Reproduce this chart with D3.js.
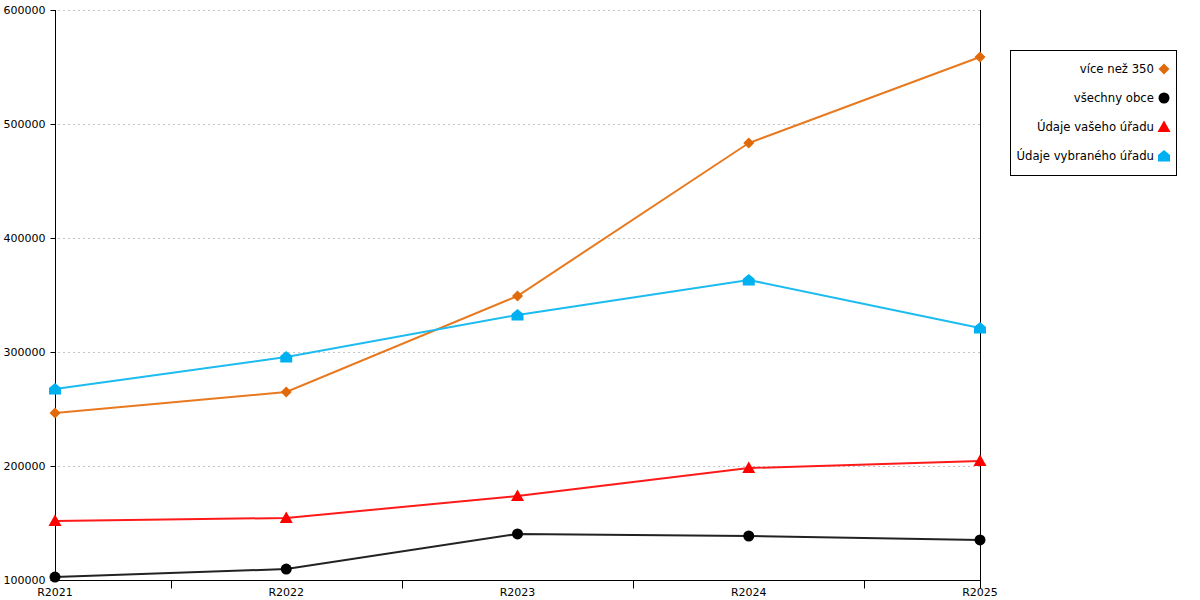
<!DOCTYPE html>
<html>
<head>
<meta charset="utf-8">
<script src="https://cdn.jsdelivr.net/npm/d3@7"></script>
<style>
  body { margin: 0; background: #fff; }
  text { font-family: "DejaVu Sans", sans-serif; }
</style>
</head>
<body>
<script>
// data
const years = ["R2021", "R2022", "R2023", "R2024", "R2025"];
const yTicks = [100000, 200000, 300000, 400000, 500000, 600000];
const viceNez350 = [246500, 264900, 349100, 483300, 558800];
const vsechnyObce = [102600, 109600, 140400, 138600, 135100];
const udajeVaseho = [151800, 154400, 173700, 198200, 204400];
const udajeVybraneho = [267500, 295600, 332500, 363200, 321100];

const series = [
    { name: "více než 350", values: viceNez350, line: "#E8791E", fill: "#E06A0A", shape: "diamond" },
    { name: "všechny obce", values: vsechnyObce, line: "#222222", fill: "#000000", shape: "circle" },
    { name: "Údaje vašeho úřadu", values: udajeVaseho, line: "#FF1A1A", fill: "#FF0000", shape: "triangle" },
    { name: "Údaje vybraného úřadu", values: udajeVybraneho, line: "#1CBBF0", fill: "#00B0F0", shape: "house" }
];

const width = 1200, height = 600;
const plotLeft = 55, plotRight = 980, plotTop = 10, plotBottom = 580;

const svg = d3.select("body").append("svg")
    .attr("width", width)
    .attr("height", height);

const x = d3.scalePoint().domain(years).range([plotLeft, plotRight]);
const y = d3.scaleLinear().domain([100000, 600000]).range([plotBottom, plotTop]);

// grid
svg.append("g")
    .selectAll("line")
    .data(yTicks.slice(1))
    .join("line")
    .attr("x1", plotLeft + 3)
    .attr("x2", plotRight)
    .attr("y1", (d) => y(d) + 0.5)
    .attr("y2", (d) => y(d) + 0.5)
    .attr("stroke", "#c4c4c4")
    .attr("stroke-dasharray", "2,3");

// y axis
const yAxis = svg.append("g")
    .attr("transform", "translate(" + (plotLeft + 0.5) + ",0)")
    .call(d3.axisLeft(y).tickValues(yTicks).tickSize(5).tickPadding(5).tickFormat(d3.format("d")));
yAxis.selectAll("text").style("font-size", "11px").attr("fill", "#000");
yAxis.select(".domain").attr("d", "M0," + plotTop + "V" + plotBottom);

// x axis: labels at categories, ticks between
const step = x.step();
const xAxis = svg.append("g")
    .attr("transform", "translate(0," + (plotBottom + 0.5) + ")");
xAxis.append("line")
    .attr("x1", plotLeft).attr("x2", plotRight)
    .attr("stroke", "#000");
xAxis.selectAll(".mid")
    .data(years.slice(1))
    .join("line")
    .attr("class", "mid")
    .attr("x1", (d) => Math.round(x(d) - step / 2) + 0.5)
    .attr("x2", (d) => Math.round(x(d) - step / 2) + 0.5)
    .attr("y1", 0).attr("y2", 8)
    .attr("stroke", "#000");
xAxis.selectAll(".lab")
    .data(years)
    .join("text")
    .attr("class", "lab")
    .attr("x", (d) => x(d))
    .attr("y", 15)
    .attr("text-anchor", "middle")
    .style("font-size", "11px")
    .text((d) => d);

// right vertical line
svg.append("line")
    .attr("x1", plotRight + 0.5).attr("x2", plotRight + 0.5)
    .attr("y1", plotTop).attr("y2", plotBottom + 8)
    .attr("stroke", "#000");

// markers
function markerPath(shape) {
    if (shape === "diamond") return "M0,-5.5L5.5,0L0,5.5L-5.5,0Z";
    if (shape === "circle") return d3.symbol(d3.symbolCircle, 95)();
    if (shape === "triangle") return "M0,-6.5L6.5,5L-6.5,5Z";
    if (shape === "house") return "M0,-6L6,-1V5.5H-6V-1Z";
}

const line = d3.line()
    .x((d, i) => x(years[i]))
    .y((d) => y(d));

series.forEach((s) => {
    svg.append("path")
        .datum(s.values)
        .attr("fill", "none")
        .attr("stroke", s.line)
        .attr("stroke-width", 2)
        .attr("d", line);
});
series.forEach((s) => {
    svg.append("g")
        .selectAll("path")
        .data(s.values)
        .join("path")
        .attr("transform", (d, i) => "translate(" + x(years[i]) + "," + y(d) + ")")
        .attr("d", markerPath(s.shape))
        .attr("fill", s.fill);
});

// legend
const legend = svg.append("g");
legend.append("rect")
    .attr("x", 1010.5).attr("y", 50.5)
    .attr("width", 166).attr("height", 125)
    .attr("fill", "#fff")
    .attr("stroke", "#000");
series.forEach((s, i) => {
    const ly = 69 + i * 29;
    legend.append("text")
        .attr("x", 1154)
        .attr("y", ly + 4)
        .attr("text-anchor", "end")
        .style("font-size", "11.7px")
        .text(s.name);
    legend.append("path")
        .attr("transform", "translate(1164," + ly + ")")
        .attr("d", markerPath(s.shape))
        .attr("fill", s.fill);
});
</script>
</body>
</html>
